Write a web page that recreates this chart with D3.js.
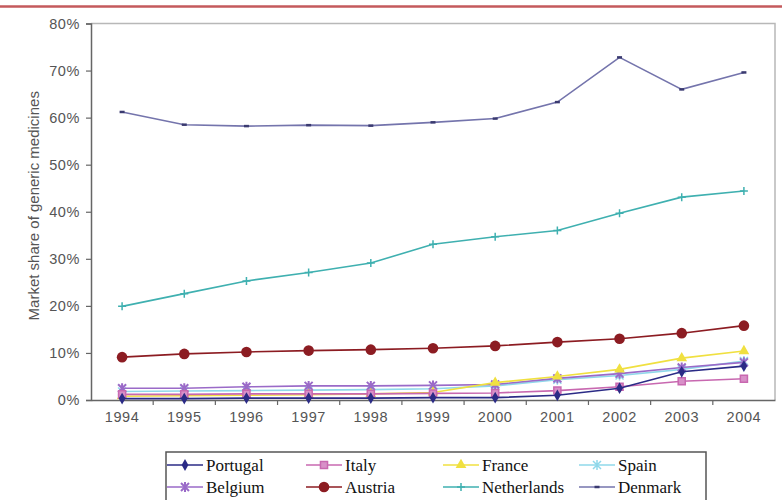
<!DOCTYPE html>
<html lang="en">
<head>
    <meta charset="UTF-8">
    <title>Market share of generic medicines</title>
    <script src="https://d3js.org/d3.v7.min.js"></script>
    <style>
        body { margin: 0; background: #fff; }
    </style>
</head>
<body>
<div id="chart"></div>
<script>
    // data (market share, %)
    let years = ['1994', '1995', '1996', '1997', '1998', '1999', '2000', '2001', '2002', '2003', '2004'];
    let yTicks = [0, 0.1, 0.2, 0.3, 0.4, 0.5, 0.6, 0.7, 0.8];

    let portugal = [0.3, 0.3, 0.4, 0.4, 0.4, 0.5, 0.5, 1.0, 2.5, 6.0, 7.2];
    let italy = [1.2, 1.2, 1.3, 1.3, 1.3, 1.4, 1.5, 2.0, 2.8, 4.0, 4.5];
    let france = [0.8, 0.9, 1.0, 1.1, 1.3, 1.6, 3.7, 5.0, 6.5, 8.9, 10.4];
    let spain = [1.8, 1.9, 2.0, 2.1, 2.2, 2.4, 3.0, 4.3, 5.2, 6.5, 8.3];
    let belgium = [2.5, 2.5, 2.8, 3.0, 3.0, 3.1, 3.3, 4.6, 5.6, 6.9, 8.0];
    let austria = [9.1, 9.8, 10.2, 10.5, 10.7, 11.0, 11.5, 12.3, 13.0, 14.2, 15.8];
    let netherlands = [19.9, 22.6, 25.3, 27.1, 29.1, 33.1, 34.7, 36.0, 39.7, 43.1, 44.4];
    let denmark = [61.2, 58.5, 58.2, 58.4, 58.3, 59.0, 59.8, 63.3, 72.8, 66.0, 69.6];

    let series = [
        {name: 'Portugal', values: portugal, color: '#2b2b86', marker: 'diamond'},
        {name: 'Italy', values: italy, color: '#c868b0', marker: 'square'},
        {name: 'France', values: france, color: '#f0e040', marker: 'triangle'},
        {name: 'Spain', values: spain, color: '#8fd8ea', marker: 'asterisk'},
        {name: 'Belgium', values: belgium, color: '#9a6ac8', marker: 'star'},
        {name: 'Austria', values: austria, color: '#8c1c22', marker: 'circle'},
        {name: 'Netherlands', values: netherlands, color: '#3fb0b0', marker: 'plus'},
        {name: 'Denmark', values: denmark, color: '#7474ac', marker: 'dash'}
    ];
    // draw order: lower lines last so they sit on top like the original
    let drawOrder = ['Denmark', 'Netherlands', 'Austria', 'Spain', 'Belgium', 'France', 'Italy', 'Portugal'];

    let W = 782, H = 500;
    let plotLeft = 91, plotRight = 775, plotTop = 23.5, plotBottom = 400;

    let svg = d3.select('#chart')
        .append('svg')
        .attr('width', W)
        .attr('height', H)
        .style('font-family', '"Liberation Sans", Arial, sans-serif');

    // thin red rule across the top of the page
    svg.append('line')
        .attr('x1', 0).attr('x2', W)
        .attr('y1', 6.5).attr('y2', 6.5)
        .attr('stroke', '#c45a5c')
        .attr('stroke-width', 2.5);

    let x = d3.scaleBand()
        .domain(years)
        .range([plotLeft, plotRight])
        .padding(0);

    let y = d3.scaleLinear()
        .domain([0, 0.8])
        .range([plotBottom, plotTop]);

    let cx = function (d, i) {
        return x(years[i]) + x.bandwidth() / 2;
    };

    // plot frame (top and right)
    svg.append('path')
        .attr('d', 'M' + plotLeft + ',' + plotTop + 'H' + plotRight + 'V' + plotBottom)
        .attr('fill', 'none')
        .attr('stroke', '#b8b8b8')
        .attr('stroke-width', 1.5);

    // Y axis
    let yAxis = svg.append('g')
        .attr('transform', 'translate(' + plotLeft + ',0)')
        .call(d3.axisLeft(y).tickValues(yTicks).tickFormat(d3.format('.0%')).tickSize(5).tickPadding(6));
    yAxis.select('.domain').attr('stroke', '#666').attr('stroke-width', 1.5);
    yAxis.selectAll('.tick line').attr('stroke', '#666').attr('stroke-width', 1.2);
    yAxis.selectAll('.tick text')
        .attr('fill', '#555')
        .style('font-size', '14.5px')
        .style('letter-spacing', '0.6px');

    // X axis: labels centred in each band, ticks between bands
    let xAxis = svg.append('g')
        .attr('transform', 'translate(0,' + plotBottom + ')')
        .call(d3.axisBottom(x).tickSize(0).tickPadding(12));
    xAxis.select('.domain').attr('stroke', '#666').attr('stroke-width', 1.5);
    xAxis.selectAll('.tick text')
        .attr('fill', '#555')
        .style('font-size', '14.5px')
        .style('letter-spacing', '0.6px');
    xAxis.selectAll('.bandtick')
        .data(years.slice(1))
        .enter()
        .append('line')
        .attr('x1', d => x(d)).attr('x2', d => x(d))
        .attr('y1', 0).attr('y2', 5)
        .attr('stroke', '#666')
        .attr('stroke-width', 1.2);

    // Y axis title
    svg.append('text')
        .attr('transform', 'translate(39,' + ((plotTop + plotBottom) / 2 - 6) + ') rotate(-90)')
        .attr('text-anchor', 'middle')
        .attr('fill', '#555')
        .style('font-size', '15px')
        .text('Market share of generic medicines');

    function drawMarker(g, type, color) {
        if (type === 'diamond') {
            g.append('path').attr('d', d3.symbol(d3.symbolDiamond, 40)()).attr('fill', color);
        } else if (type === 'square') {
            g.append('path').attr('d', d3.symbol(d3.symbolSquare, 50)())
                .attr('fill', '#d890c8').attr('stroke', color).attr('stroke-width', 1.5);
        } else if (type === 'triangle') {
            g.append('path').attr('d', d3.symbol(d3.symbolTriangle, 50)()).attr('fill', color);
        } else if (type === 'asterisk') {
            g.append('path').attr('d', 'M-4,-4L4,4M-4,4L4,-4M0,-5V5')
                .attr('stroke', color).attr('stroke-width', 1.5);
        } else if (type === 'star') {
            g.append('path').attr('d', 'M-4,-4L4,4M-4,4L4,-4M0,-5V5')
                .attr('stroke', color).attr('stroke-width', 2);
        } else if (type === 'circle') {
            g.append('circle').attr('r', 5.3).attr('fill', color);
        } else if (type === 'plus') {
            g.append('path').attr('d', 'M-4,0H4M0,-4V4')
                .attr('stroke', color).attr('stroke-width', 1.5);
        } else if (type === 'dash') {
            g.append('path').attr('d', 'M-2.5,0H2.5')
                .attr('stroke', '#3a3a70').attr('stroke-width', 2.5);
        }
    }

    let line = d3.line()
        .x(cx)
        .y(d => y(d / 100));

    drawOrder.forEach(function (name) {
        let s = series.find(d => d.name === name);
        let g = svg.append('g').attr('class', 'series');
        g.append('path')
            .datum(s.values)
            .attr('d', line)
            .attr('fill', 'none')
            .attr('stroke', s.color)
            .attr('stroke-width', 1.6);
        g.selectAll('.pt')
            .data(s.values)
            .enter()
            .append('g')
            .attr('class', 'pt')
            .attr('transform', (d, i) => 'translate(' + cx(d, i) + ',' + y(d / 100) + ')')
            .each(function () {
                drawMarker(d3.select(this), s.marker, s.color);
            });
    });

    // legend
    let legend = svg.append('g');
    legend.append('rect')
        .attr('x', 166).attr('y', 452)
        .attr('width', 540).attr('height', 60)
        .attr('fill', '#fff')
        .attr('stroke', '#555')
        .attr('stroke-width', 1.5);

    let colX = [167, 306, 443, 579];
    let rowY = [465, 487];
    series.forEach(function (s, i) {
        let lx = colX[i % 4], ly = rowY[Math.floor(i / 4)];
        let item = legend.append('g').attr('transform', 'translate(' + lx + ',' + ly + ')');
        item.append('line')
            .attr('x1', 0).attr('x2', 36)
            .attr('y1', 0).attr('y2', 0)
            .attr('stroke', s.color)
            .attr('stroke-width', 1.6);
        drawMarker(item.append('g').attr('transform', 'translate(18,0)'), s.marker, s.color);
        item.append('text')
            .attr('x', 39)
            .attr('y', 6)
            .style('font-family', '"Liberation Serif", "Times New Roman", serif')
            .style('font-size', '17px')
            .attr('fill', '#111')
            .text(s.name);
    });
</script>
</body>
</html>
